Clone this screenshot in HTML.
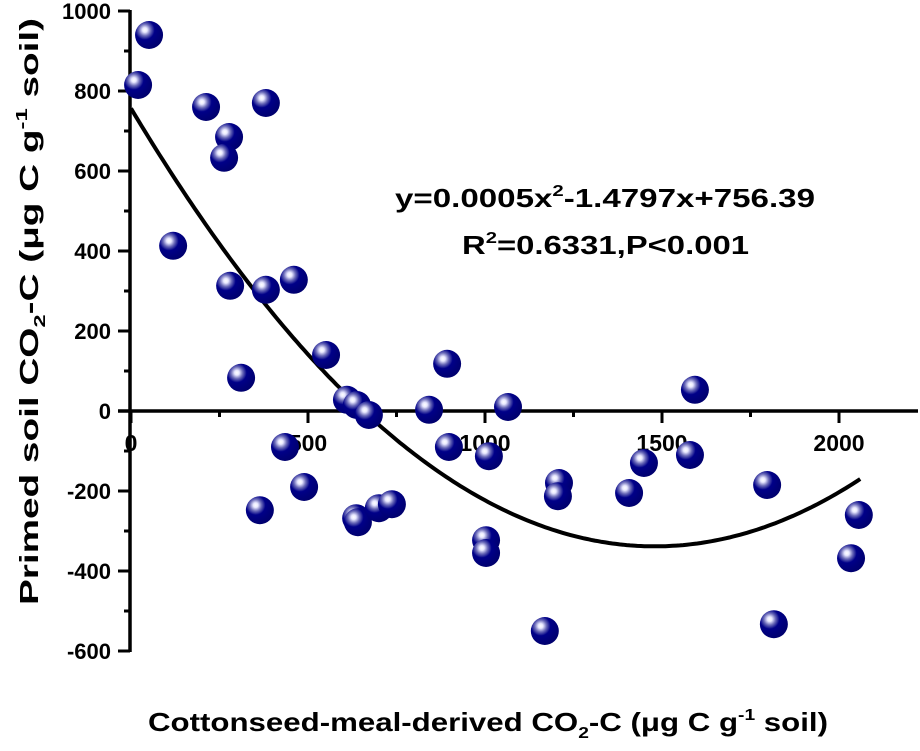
<!DOCTYPE html>
<html><head><meta charset="utf-8"><style>
body{margin:0;background:#fff;}
svg text{font-family:"Liberation Sans",Arial,sans-serif;font-weight:bold;fill:#000;}
</style></head><body>
<svg id="chart" width="920" height="746" viewBox="0 0 920 746">
<defs>
<radialGradient id="ball" cx="0.35" cy="0.32" r="0.7">
<stop offset="0" stop-color="#ffffff"/>
<stop offset="0.12" stop-color="#e8e8ff"/>
<stop offset="0.3" stop-color="#6a6ab8"/>
<stop offset="0.5" stop-color="#000088"/>
<stop offset="1" stop-color="#00006e"/>
</radialGradient>
</defs>
<g id="axes"></g>
<g id="curve"></g>
<g id="points"></g>
<text x="395" y="207" font-size="26" textLength="420" lengthAdjust="spacingAndGlyphs">y=0.0005x<tspan font-size="16" dy="-11">2</tspan><tspan dy="11">-1.4797x+756.39</tspan></text>
<text x="462" y="254" font-size="26" textLength="287" lengthAdjust="spacingAndGlyphs">R<tspan font-size="16" dy="-11">2</tspan><tspan dy="11">=0.6331,P&lt;0.001</tspan></text>
<text x="148" y="731" font-size="26" textLength="680" lengthAdjust="spacingAndGlyphs">Cottonseed-meal-derived CO<tspan font-size="16" dy="7">2</tspan><tspan dy="-7">-C (μg C g</tspan><tspan font-size="16" dy="-11">-1</tspan><tspan dy="11"> soil)</tspan></text>
<text transform="translate(38,605) rotate(-90)" x="0" y="0" font-size="26" textLength="587" lengthAdjust="spacingAndGlyphs">Primed soil CO<tspan font-size="16" dy="7">2</tspan><tspan dy="-7">-C (μg C g</tspan><tspan font-size="16" dy="-11">-1</tspan><tspan dy="11"> soil)</tspan></text>
</svg>
<script>
const xVals=[20,51,212,277,263,381,119,280,381,460,311,551,610,638,672,842,893,1065,435,898,1011,364,489,636,641,700,737,1003,1003,1209,1206,1169,1407,1449,1593,1579,1797,1816,2034,2056];
const yVals=[815,940,760,685,633,770,413,313,303,328,83,140,28,15,-10,3,118,10,-90,-90,-113,-248,-190,-268,-278,-243,-233,-323,-355,-180,-213,-550,-205,-130,53,-110,-185,-533,-368,-260];
const xTicks=[0,500,1000,1500,2000];
const yTicks=[-600,-400,-200,0,200,400,600,800,1000];
const fitCoef=[0.0005,-1.4797,756.39];
const NS="http://www.w3.org/2000/svg";
const sx=v=>131+v*(708/2000);
const sy=v=>411-v*0.4;
function mk(tag,attrs,parent){const e=document.createElementNS(NS,tag);for(const k in attrs)e.setAttribute(k,attrs[k]);parent.appendChild(e);return e;}
const ax=document.getElementById('axes');
let l=mk('line',{x1:130,y1:sy(1000)-1,x2:130,y2:sy(-600)+1,stroke:'#000','stroke-width':3.5},ax);


l=mk('line',{x1:118,y1:sy(0),x2:918,y2:sy(0),stroke:'#000','stroke-width':3.5},ax);


for(let v=-600;v<=1000;v+=100){
 const major=v%200===0;
 const t=mk('line',{x1:major?118:124,y1:sy(v),x2:130,y2:sy(v),stroke:'#000','stroke-width':3},ax);
 
 
}
yTicks.forEach(v=>{
 const t=mk('text',{x:111,y:sy(v)+8,'font-size':22,'text-anchor':'end'},ax);t.textContent=v;
 
 
});
for(let v=0;v<=2200;v+=250){
 const major=v%500===0;
 const t=mk('line',{x1:sx(v),y1:sy(0),x2:sx(v),y2:sy(0)+(major?12:6),stroke:'#000','stroke-width':3},ax);
 
 
}
xTicks.forEach(v=>{
 const t=mk('text',{x:sx(v),y:sy(0)+40,'font-size':23,'text-anchor':'middle'},ax);t.textContent=v;
 
 
});
let d='';
for(let x=0;x<=2060;x+=10){const y=fitCoef[0]*x*x+fitCoef[1]*x+fitCoef[2];d+=(x?'L':'M')+sx(x).toFixed(1)+' '+sy(y).toFixed(1);}
const c=mk('path',{d:d,fill:'none',stroke:'#000','stroke-width':4},document.getElementById('curve'));


const pg=document.getElementById('points');
xVals.forEach((x,i)=>{
 const p=mk('circle',{cx:sx(x),cy:sy(yVals[i]),r:14,fill:'url(#ball)'},pg);
 
 
});
</script>
</body></html>
